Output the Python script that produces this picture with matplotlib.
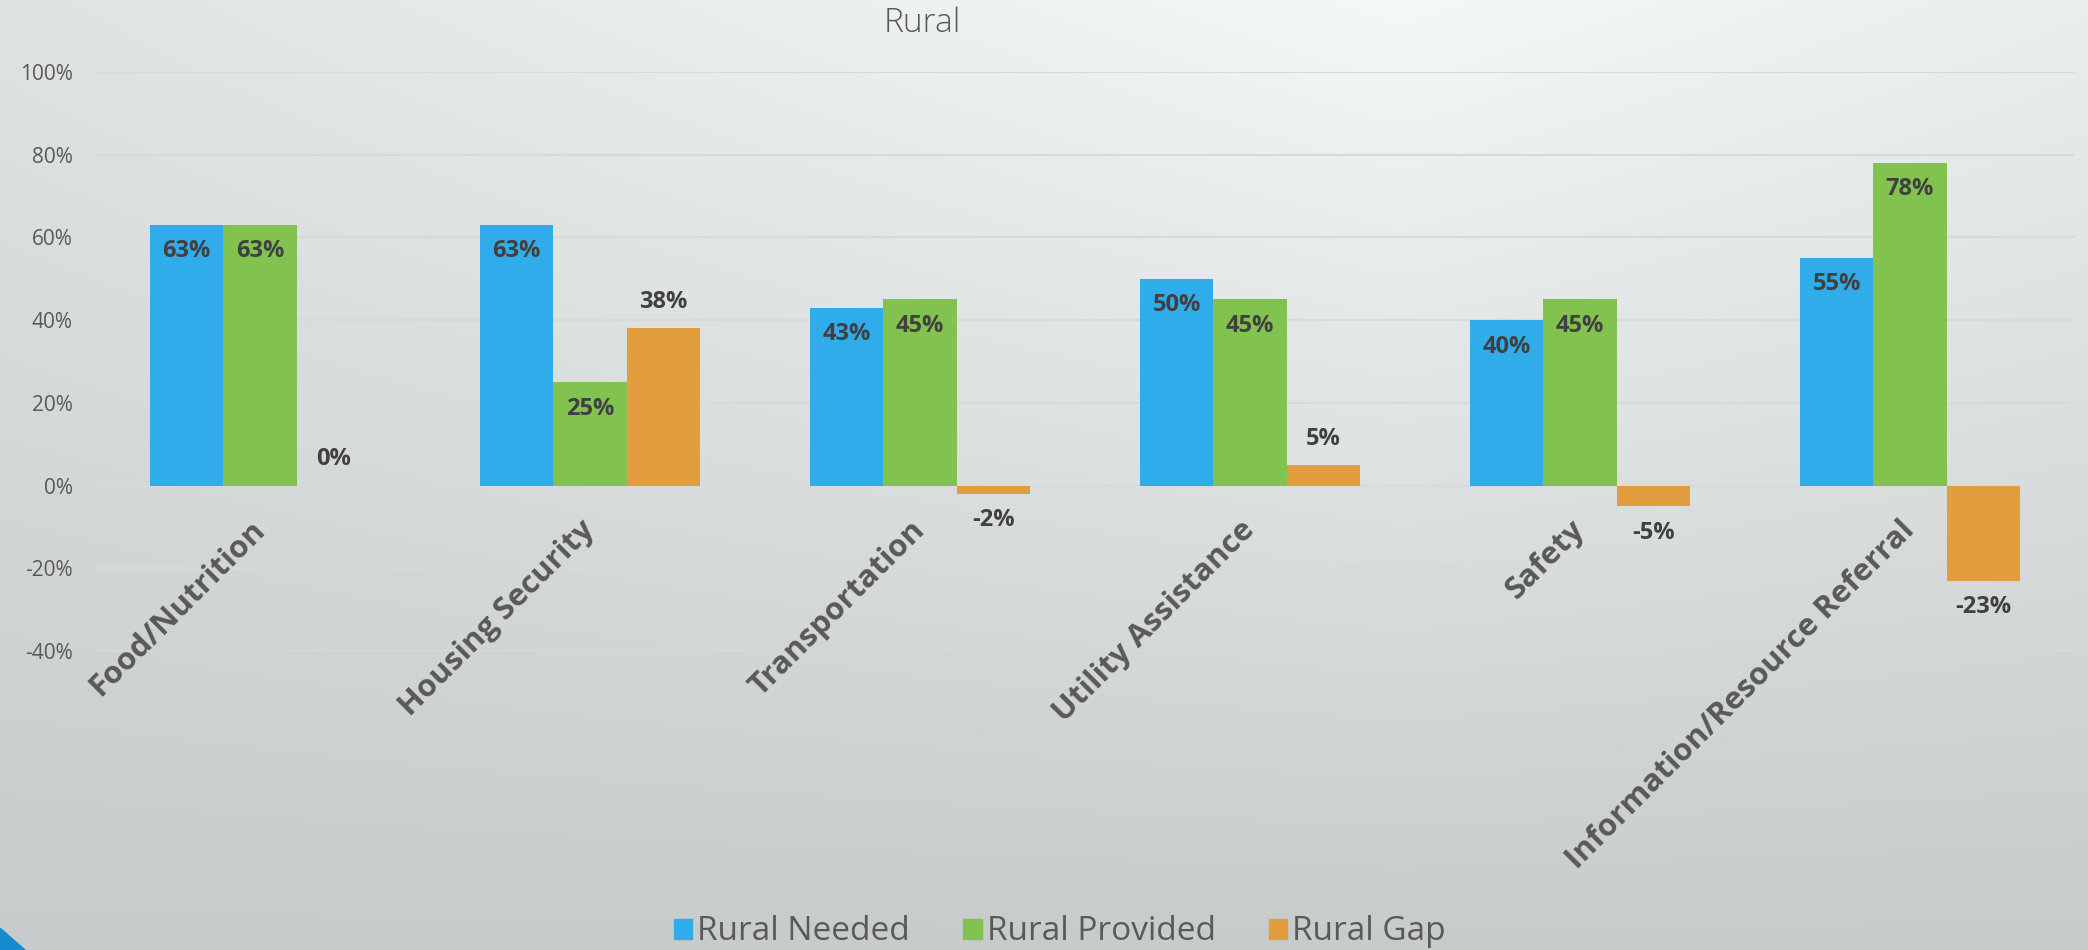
import numpy as np
import matplotlib
matplotlib.use("Agg")
from matplotlib import pyplot as plt
from matplotlib.patches import Patch, Polygon
from matplotlib.ticker import FuncFormatter

categories = ["Food/Nutrition", "Housing Security", "Transportation",
              "Utility Assistance", "Safety", "Information/Resource Referral"]
needed = [63, 63, 43, 50, 40, 55]
provided = [63, 25, 45, 45, 45, 78]
gap = [0, 38, -2, 5, -5, -23]
series_names = ["Rural Needed", "Rural Provided", "Rural Gap"]
y_ticks = [-40, -20, 0, 20, 40, 60, 80, 100]

colors = ["#31ACEA", "#82C34F", "#E29D3E"]
text_gray = "#595959"
label_gray = "#404040"

plt.rcParams["font.family"] = ["Open Sans", "DejaVu Sans"]

W, H = 2088, 950
fig = plt.figure(figsize=(W / 100, H / 100), dpi=100)

# background gradient
bg = fig.add_axes([0, 0, 1, 1], zorder=-10)
yy, xx = np.mgrid[0:H, 0:W]
v = 248 - 45 * (yy / H) - 21 * (np.abs(xx - 1400) / 1400) * (1 - yy / H)
img = np.dstack([v - 3, v, v + 1]).clip(0, 255) / 255.0
bg.imshow(img, extent=[0, 1, 0, 1], aspect="auto")
bg.add_patch(Polygon([(0, 1 - 928 / H), (0, 0), (25 / W, 0)],
                     closed=True, color="#168BD0"))
bg.set_xlim(0, 1)
bg.set_ylim(0, 1)
bg.axis("off")

ax = fig.add_axes([95 / W, 1 - 651 / H, 1980 / W, (651 - 72) / H])
ax.set_facecolor("none")

x = np.arange(len(categories))
w = 0.2222
all_series = [needed, provided, gap]
for k, (vals, c, name) in enumerate(zip(all_series, colors, series_names)):
    bars = ax.bar(x + (k - 1) * w, vals, w, color=c, label=name, zorder=3)
    for b, val in zip(bars, vals):
        cx = b.get_x() + b.get_width() / 2
        if k < 2:
            off = -19
        else:
            off = 19 if val >= 0 else -19
        ax.annotate(f"{val}%", xy=(cx, val), xytext=(0, off),
                    textcoords="offset points", ha="center", va="center",
                    fontsize=17, fontweight="bold", color=label_gray, zorder=4)

ax.set_xlim(-0.5, len(categories) - 0.5)
ax.set_ylim(-40, 100)
ax.set_yticks(y_ticks)
ax.yaxis.set_major_formatter(FuncFormatter(lambda v, p: f"{int(v)}%"))
ax.tick_params(axis="y", length=0, pad=16, labelsize=15, labelcolor=text_gray)
ax.set_xticks([])
ax.grid(axis="y", color="#D9D9D9", linewidth=1.5, zorder=0)
for s in ax.spines.values():
    s.set_visible(False)

for i, cat in enumerate(categories):
    ax.annotate(cat, xy=(i, 0), xytext=(8, -21), textcoords="offset points",
                ha="right", va="top", rotation=45, fontsize=22.5,
                fontweight="bold", color=text_gray, annotation_clip=False)

fig.text(922 / W, 1 - 23 / H, "Rural", ha="center", va="center",
         fontsize=24, fontweight="light", color=text_gray)

handles = [Patch(color=c) for c in colors]
fig.legend(handles, series_names, loc="center", bbox_to_anchor=(1060 / W, 1 - 932 / H),
           ncol=3, frameon=False, fontsize=24, labelcolor=text_gray,
           handlelength=0.55, handleheight=0.55, handletextpad=0.15,
           columnspacing=1.6)

fig.savefig("out.png", dpi=100)
